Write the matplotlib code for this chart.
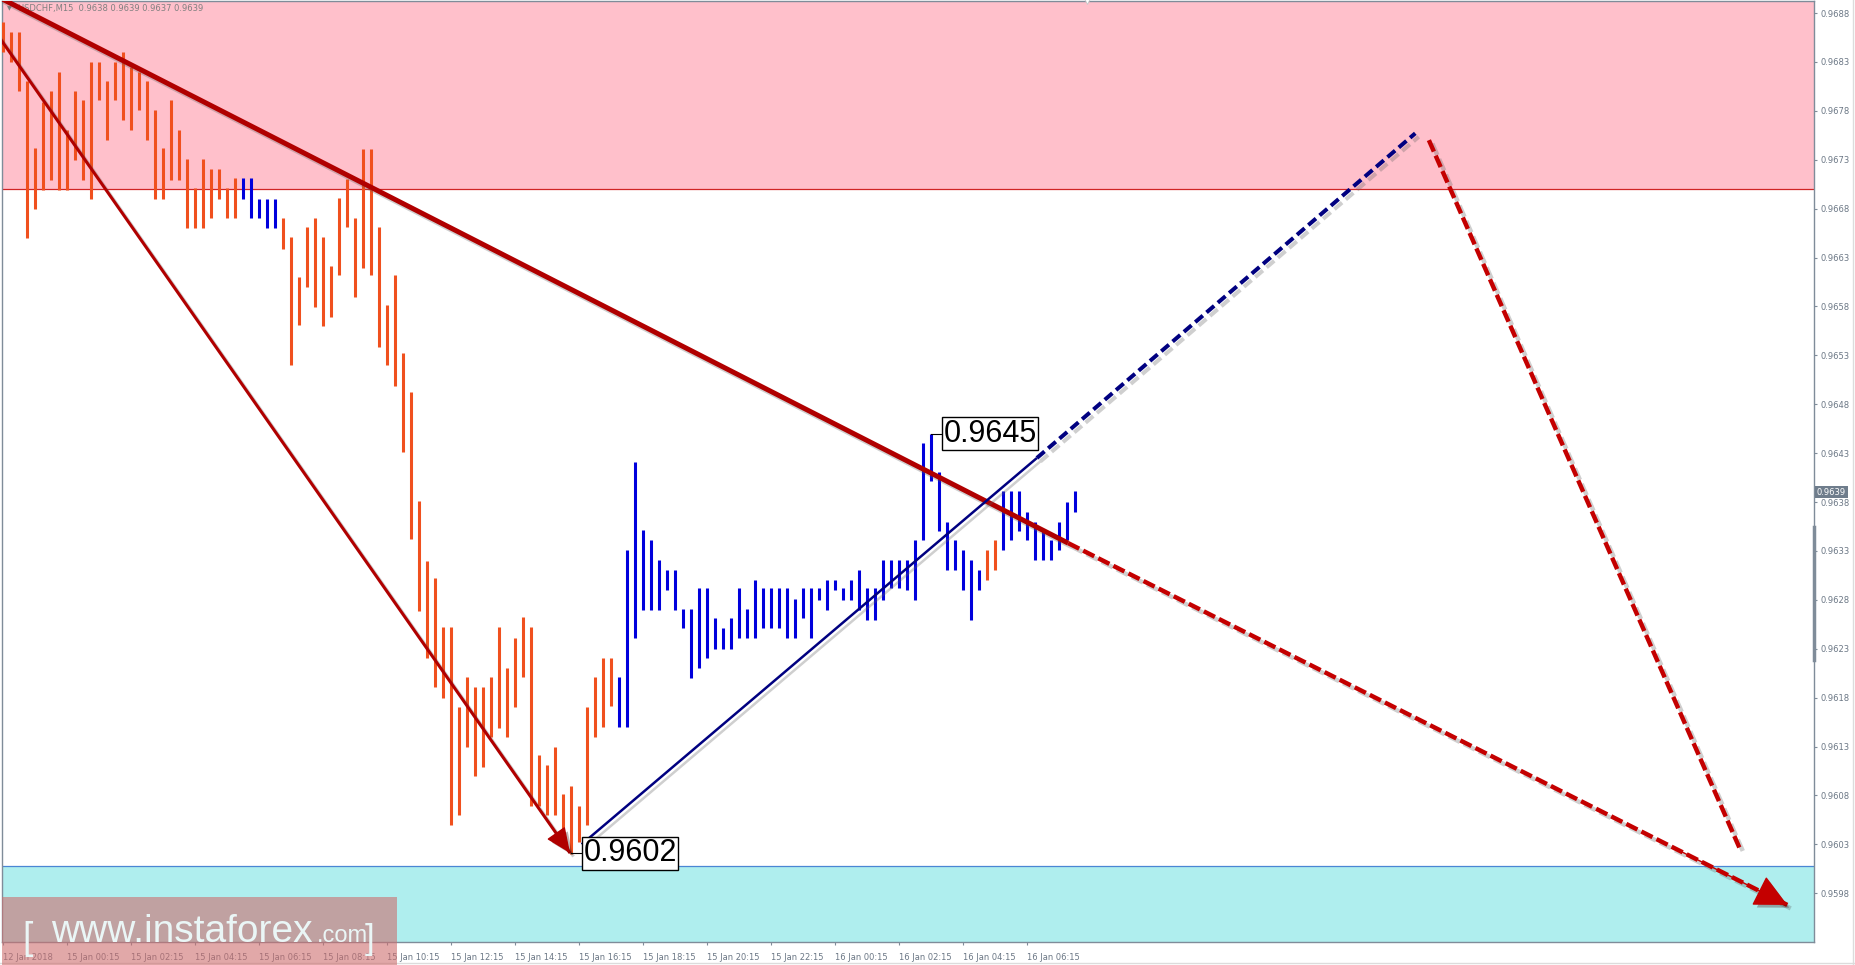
"""
USDCHF M15 wave chart (instaforex style) redrawn with matplotlib.
"""

import matplotlib
matplotlib.use("Agg")
import matplotlib.pyplot as plt
import matplotlib.patheffects as pe
from matplotlib.patches import Rectangle
from matplotlib.lines import Line2D
from matplotlib.transforms import blended_transform_factory

# ---- data --------------------------------------------------------------
# high / low of each M15 bar, left to right
highs = [0.96871, 0.96861, 0.96861, 0.96810, 0.96742, 0.96789, 0.96800, 0.96820, 0.96760, 0.96800,
         0.96791, 0.96830, 0.96830, 0.96810, 0.96830, 0.96840, 0.96825, 0.96820, 0.96810, 0.96781,
         0.96742, 0.96791, 0.96760, 0.96731, 0.96701, 0.96731, 0.96721, 0.96721, 0.96701, 0.96711,
         0.96711, 0.96711, 0.96690, 0.96690, 0.96690, 0.96670, 0.96651, 0.96610, 0.96661, 0.96670,
         0.96651, 0.96621, 0.96691, 0.96710, 0.96670, 0.96741, 0.96741, 0.96661, 0.96581, 0.96612,
         0.96532, 0.96492, 0.96381, 0.96320, 0.96302, 0.96252, 0.96252, 0.96170, 0.96201, 0.96191,
         0.96191, 0.96201, 0.96252, 0.96210, 0.96241, 0.96262, 0.96252, 0.96121, 0.96111, 0.96130,
         0.96081, 0.96090, 0.96069, 0.96170, 0.96201, 0.96220, 0.96220, 0.96201, 0.96331, 0.96421,
         0.96351, 0.96341, 0.96321, 0.96310, 0.96310, 0.96271, 0.96271, 0.96292, 0.96292, 0.96261,
         0.96251, 0.96261, 0.96292, 0.96271, 0.96300, 0.96292, 0.96292, 0.96292, 0.96292, 0.96281,
         0.96292, 0.96292, 0.96292, 0.96300, 0.96300, 0.96292, 0.96300, 0.96310, 0.96292, 0.96292,
         0.96321, 0.96321, 0.96321, 0.96321, 0.96341, 0.96440, 0.96450, 0.96411, 0.96360, 0.96341,
         0.96331, 0.96321, 0.96310, 0.96331, 0.96341, 0.96391, 0.96391, 0.96391, 0.96370, 0.96360,
         0.96351, 0.96341, 0.96360, 0.96380, 0.96391]
lows = [0.96840, 0.96830, 0.96800, 0.96650, 0.96680, 0.96699, 0.96709, 0.96699, 0.96699, 0.96730,
        0.96709, 0.96690, 0.96791, 0.96750, 0.96791, 0.96771, 0.96760, 0.96781, 0.96750, 0.96690,
        0.96690, 0.96709, 0.96709, 0.96660, 0.96660, 0.96660, 0.96670, 0.96690, 0.96670, 0.96670,
        0.96690, 0.96670, 0.96670, 0.96660, 0.96660, 0.96639, 0.96520, 0.96561, 0.96600, 0.96579,
        0.96560, 0.96569, 0.96612, 0.96661, 0.96590, 0.96619, 0.96612, 0.96539, 0.96520, 0.96499,
        0.96431, 0.96342, 0.96269, 0.96220, 0.96191, 0.96180, 0.96050, 0.96060, 0.96130, 0.96100,
        0.96109, 0.96140, 0.96149, 0.96140, 0.96170, 0.96201, 0.96069, 0.96069, 0.96060, 0.96060,
        0.96032, 0.96020, 0.96032, 0.96050, 0.96140, 0.96150, 0.96171, 0.96150, 0.96150, 0.96241,
        0.96270, 0.96270, 0.96270, 0.96290, 0.96270, 0.96251, 0.96200, 0.96210, 0.96220, 0.96230,
        0.96230, 0.96230, 0.96241, 0.96241, 0.96241, 0.96251, 0.96251, 0.96251, 0.96241, 0.96241,
        0.96261, 0.96241, 0.96280, 0.96270, 0.96290, 0.96280, 0.96280, 0.96270, 0.96259, 0.96259,
        0.96280, 0.96292, 0.96292, 0.96290, 0.96280, 0.96341, 0.96401, 0.96350, 0.96310, 0.96310,
        0.96290, 0.96259, 0.96290, 0.96300, 0.96310, 0.96331, 0.96341, 0.96350, 0.96341, 0.96321,
        0.96321, 0.96321, 0.96331, 0.96341, 0.96370]
# colour runs of the wave marking: (number of bars, colour)
color_runs = [(30, "#f0501e"), (5, "#0000dc"), (42, "#f0501e"),
              (46, "#0000dc"), (2, "#f0501e"), (10, "#0000dc")]

time_labels = ["12 Jan 2018", "15 Jan 00:15", "15 Jan 02:15", "15 Jan 04:15",
               "15 Jan 06:15", "15 Jan 08:15", "15 Jan 10:15", "15 Jan 12:15",
               "15 Jan 14:15", "15 Jan 16:15", "15 Jan 18:15", "15 Jan 20:15",
               "15 Jan 22:15", "16 Jan 00:15", "16 Jan 02:15", "16 Jan 04:15",
               "16 Jan 06:15"]
label_step = 8                      # one label every 8 bars (2 hours)

price_ticks = [0.9598 + 0.0005 * k for k in range(19)]
resistance = 0.9670                 # pink zone from here up
support = 0.96008                   # cyan zone from here down
last_price = 0.9639

# wave lines (bar index, price)
big_trend = [(-1, 0.96898), (133.1, 0.96338)]
big_trend_fc = [(133.1, 0.96338), (223.0, 0.95968)]
down_leg = [(-1, 0.96861), (70.85, 0.96021)]
up_leg = [(72.3, 0.96030), (129.2, 0.96425)]
up_leg_fc = [(129.2, 0.96425), (176.5, 0.96757)]
down_leg_fc = [(178.2, 0.96750), (217.1, 0.96025)]
marks = [(116, 0.96450, "0.9645"), (71, 0.96021, "0.9602")]

# ---- figure ---------------------------------------------------------------
W, H = 1856, 965
fig = plt.figure(figsize=(W / 100, H / 100), dpi=100, facecolor="white")
ax = fig.add_axes([2 / W, 23 / H, 1812 / W, 941 / H])
ax.set_xlim(-0.16, 226.34)
ax.set_ylim(0.959301, 0.968923)

shadow = [pe.SimpleLineShadow(offset=(2.5, -2.5), shadow_color="#606060", alpha=0.3),
          pe.Normal()]

# zones
ax.axhspan(resistance, 1, color="#ffc0cb", zorder=0, lw=0)
ax.axhline(resistance, color="#d02525", lw=0.9, zorder=1)
ax.axhspan(0.9, support, color="#afeeee", zorder=0, lw=0)
ax.axhline(support, color="#4a86d4", lw=0.9, zorder=1)

# bars
colors = []
for n, c in color_runs:
    colors += [c] * n
ax.vlines(range(len(highs)), lows, highs, colors=colors, lw=2.2, zorder=3)

# trend lines
def seg(pts, **kw):
    xs, ys = zip(*pts)
    ax.plot(xs, ys, solid_capstyle="butt", dash_capstyle="butt",
            path_effects=shadow, **kw)

def head(pts, color, length, width):
    (x0, y0), (x1, y1) = pts
    f = 0.85
    start = (x0 + (x1 - x0) * f, y0 + (y1 - y0) * f)
    a = ax.annotate("", xy=(x1, y1), xytext=start, zorder=6,
                    arrowprops=dict(arrowstyle="-|>,head_length=%g,head_width=%g" % (length, width),
                                    mutation_scale=20, color=color, lw=1,
                                    shrinkA=0, shrinkB=0))
    a.arrow_patch.set_path_effects([pe.SimplePatchShadow(offset=(2.5, -2.5), alpha=0.3),
                                    pe.Normal()])

seg(big_trend, color="#b00000", lw=3.6, zorder=5)
seg(big_trend_fc, color="#c40000", lw=3.2, ls=(0, (2.8, 1.0)), zorder=5)
head(big_trend_fc, "#c40000", 1.05, 0.52)
seg(down_leg, color="#b00000", lw=2.2, zorder=5)
head(down_leg, "#b00000", 0.8, 0.35)
seg(up_leg, color="#000080", lw=1.8, zorder=5)
seg(up_leg_fc, color="#000080", lw=2.9, ls=(0, (2.5, 1.2)), zorder=5)
seg(down_leg_fc, color="#c40000", lw=3.2, ls=(0, (2.8, 1.0)), zorder=5)

# price marks
for i, p, txt in marks:
    ax.plot([i, i + 1.35], [p, p], color="black", lw=0.8, zorder=6)
    ax.text(i + 1.5, p, txt, fontsize=22, family="Liberation Sans", va="center",
            ha="left", zorder=7,
            bbox=dict(boxstyle="square,pad=0.05", fc="white", ec="black", lw=1))

# axes styling
for s in ax.spines.values():
    s.set_color("#7f8c99")
    s.set_linewidth(1)
ax.yaxis.tick_right()
ax.set_yticks(price_ticks)
ax.set_yticklabels(["%.4f" % t for t in price_ticks])
ax.set_xticks(range(0, label_step * len(time_labels), label_step))
ax.set_xticklabels(time_labels)
for lbl in ax.get_xticklabels():
    lbl.set_horizontalalignment("left")
ax.tick_params(axis="both", direction="out", length=2.2, width=0.8, color="#7f8c99",
               labelsize=6, labelcolor="#6b7785")
ax.tick_params(axis="x", pad=6)
ax.tick_params(axis="y", pad=2.5)

# current price tag and side bar on the price scale
bt = blended_transform_factory(ax.transAxes, ax.transData)
ax.text(1.0015, last_price, "%.4f" % last_price, transform=bt, fontsize=6, color="white",
        va="center", ha="left", clip_on=False, zorder=8,
        bbox=dict(boxstyle="square,pad=0.2", fc="#6f7d8c", ec="none"))
ax.plot([1, 1], [0.96218, 0.96354], transform=bt, color="#7f8c99", lw=2.5,
        clip_on=False, zorder=8)
ax.plot(135.5, 0.968923, marker="v", ms=5, mfc="white", mec="#c8c8c8", mew=0.6,
        clip_on=False, zorder=8)

# symbol line
ax.text(5 / 1812, 1 - 8 / 941, "\u25bc", transform=ax.transAxes, fontsize=4.5,
        color="#808080", va="center", zorder=4)
ax.text(16 / 1812, 1 - 8 / 941, "USDCHF,M15  0.9638 0.9639 0.9637 0.9639",
        transform=ax.transAxes, fontsize=6, color="#808080", va="center", zorder=4)

# watermark
fig.patches.append(Rectangle((2 / W, 0), 395 / W, 68 / H, transform=fig.transFigure,
                             facecolor="#cd6e6e", alpha=0.6, lw=0, zorder=10))
wm = dict(color="#eaf6f6", family="Liberation Sans", va="baseline", zorder=11)
base = 1 - 942 / H
fig.text(22 / W, base - 7 / H, "[", fontsize=27, **wm)
fig.text(51 / W, base, "www.instaforex", fontsize=28, **wm)
fig.text(317 / W, base, ".com", fontsize=17, **wm)
fig.text(365 / W, base - 7 / H, "]", fontsize=25, **wm)

# window frame lines
fig.lines.append(Line2D([0, 1], [1 - 963 / H] * 2, transform=fig.transFigure,
                        color="#dcdcdc", lw=1))
fig.lines.append(Line2D([1853 / W] * 2, [0, 1], transform=fig.transFigure,
                        color="#dcdcdc", lw=1))

fig.savefig("out.png", dpi=100, facecolor="white")
